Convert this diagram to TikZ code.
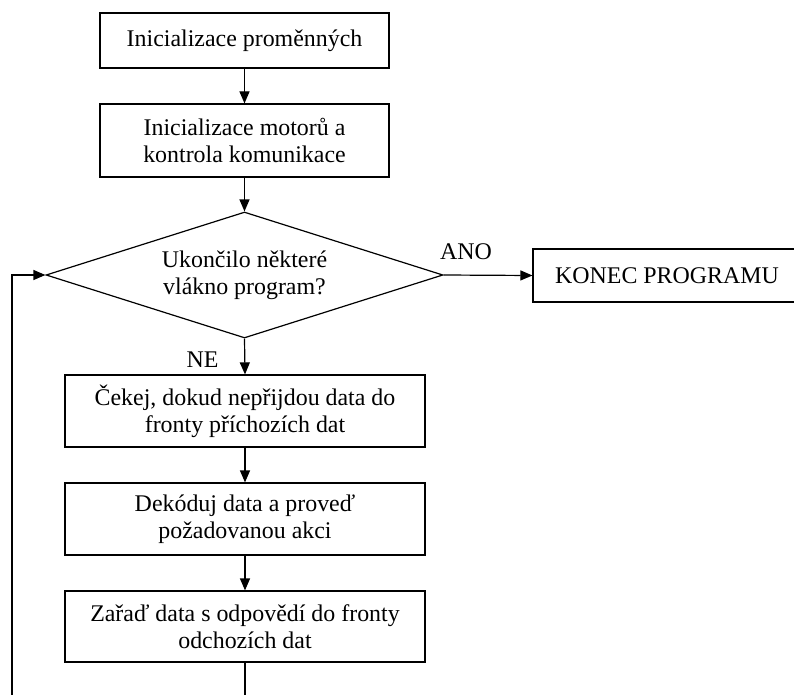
\documentclass[tikz,border=0pt]{standalone}
\usepackage{fontspec}
\setmainfont{Liberation Serif}
\usetikzlibrary{shapes.geometric,arrows.meta}
\begin{document}
\begin{tikzpicture}[x=1pt,y=-1pt,
  every node/.style={font=\fontsize{23.9}{27}\selectfont},
  box/.style={draw,line width=1.2pt,rectangle,align=center,inner sep=0pt},
  dec/.style={draw,line width=1.2pt,diamond,aspect=3.15,inner sep=0pt,align=center,minimum width=397pt,minimum height=126pt},
  arr/.style={line width=1.2pt,-{Triangle[length=12pt,width=10pt]}},
  lbl/.style={inner sep=0pt}]
\useasboundingbox (0,0) rectangle (794,695);
\node[box,minimum width=289pt,minimum height=55pt] (b1) at (244.5,40.5) {Inicializace proměnných};
\node[box,minimum width=289pt,minimum height=73pt] (b2) at (244.5,140.5) {Inicializace motorů a\\kontrola komunikace};
\node[dec] (dia) at (244.5,275) {Ukončilo některé\\vlákno program?};
\node[box,minimum width=268pt,minimum height=53pt] (konec) at (667,275.5) {KONEC PROGRAMU};
\node[box,minimum width=360pt,minimum height=72pt] (b3) at (245,411) {Čekej, dokud nepřijdou data do\\fronty příchozích dat};
\node[box,minimum width=360pt,minimum height=72pt] (b4) at (245,519) {Dekóduj data a proveď\\požadovanou akci};
\node[box,minimum width=360pt,minimum height=71pt] (b5) at (245,626.5) {Zařaď data s odpovědí do fronty\\odchozích dat};
\node[lbl] (ano) at (466,252) {ANO};
\node[lbl] (ne) at (202.5,360) {NE};
\draw[arr] (b1) -- (b2);
\draw[arr] (b2) -- (dia);
\draw[arr] (dia.south) -- (b3.north);
\draw[arr] (b3) -- (b4);
\draw[arr] (b4) -- (b5);
\draw[arr] (dia.east) -- (konec.west);
\coordinate (lb) at (245,715);
\coordinate (ll) at (12,715);
\begin{scope}
\clip (0,0) rectangle (794,695);
\draw[arr] (b5.south) -- (lb) -- (ll) |- (dia.west);
\end{scope}
\end{tikzpicture}
\end{document}
